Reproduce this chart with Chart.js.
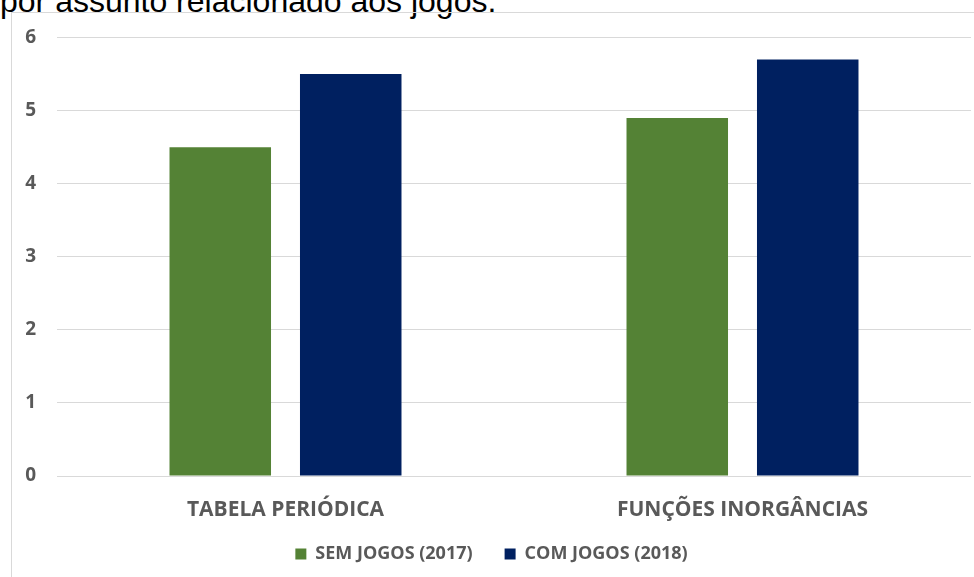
<!DOCTYPE html>
<html>
<head>
<meta charset="utf-8">
<script src="https://cdn.jsdelivr.net/npm/chart.js@4.4.1/dist/chart.umd.min.js"></script>
<style>
  html, body { margin: 0; padding: 0; background: #fff; overflow: hidden; }
  body { width: 974px; height: 577px; position: relative; }
  #caption {
    position: absolute; left: 0; top: -15px;
    font-family: "Liberation Sans", Arial, sans-serif; font-size: 32px; line-height: 32px;
    color: #000; white-space: nowrap;
  }
  #frame {
    position: absolute; left: 11px; top: 12px; width: 962px; height: 564px;
    border-left: 1px solid #d9d9d9; border-top: 1px solid #d9d9d9;
  }
  canvas { display: block; }
</style>
</head>
<body>
<div id="caption">por assunto relacionado aos jogos.</div>
<div id="frame"><canvas id="mycanvas" width="962" height="564"></canvas></div>
<script>
var categories = ['TABELA PERIÓDICA', 'FUNÇÕES INORGÂNCIAS'];
var semJogos = [4.5, 4.9];
var comJogos = [5.5, 5.7];
var yTicks = [0, 1, 2, 3, 4, 5, 6];

var font = '"Open Sans", "DejaVu Sans", sans-serif';

var chartdata = {
  labels: categories,
  datasets: [
    {
      label: 'SEM JOGOS (2017)',
      backgroundColor: '#548235',
      data: semJogos
    },
    {
      label: 'COM JOGOS (2018)',
      backgroundColor: '#002060',
      data: comJogos
    }
  ]
};

// keep the legend box at a fixed height so the plot area lines up
var legendHeight = {
  id: 'legendHeight',
  beforeUpdate: function(chart) {
    var lg = chart.legend;
    if (lg && !lg._patched) {
      var fit = lg.fit;
      lg.fit = function() {
        fit.call(this);
        this.height = 64;
      };
      lg._patched = true;
    }
  }
};

var options = {
  responsive: false,
  animation: false,
  datasets: {
    bar: { categoryPercentage: 0.571, barPercentage: 0.778 }
  },
  layout: { padding: { top: 24.5, right: 3, bottom: 0, left: 0 } },
  plugins: {
    legend: {
      position: 'bottom',
      labels: {
        boxWidth: 11, boxHeight: 11, padding: 32,
        color: '#595959',
        font: { family: font, size: 18, weight: 'bold' }
      }
    },
    tooltip: { enabled: false }
  },
  scales: {
    x: {
      grid: { display: false },
      border: { display: false },
      ticks: {
        color: '#595959', padding: 13,
        font: { family: font, size: 21, weight: 'bold' }
      },
      afterFit: function(scale) {
        scale.height = 37;
        scale._computeLabelArea = function() { return null; };
      }
    },
    y: {
      min: yTicks[0],
      max: yTicks[yTicks.length - 1],
      afterBuildTicks: function(scale) {
        scale.ticks = yTicks.map(function(v) { return { value: v }; });
      },
      grid: { color: '#d9d9d9', lineWidth: 1, drawTicks: false },
      border: { display: false },
      ticks: {
        color: '#595959', padding: 21,
        font: { family: font, size: 19, weight: 'bold' }
      },
      afterFit: function(scale) {
        scale.width = 45;
        scale.paddingTop = 0;
        scale.paddingBottom = 0;
      }
    }
  }
};

var ctx = document.getElementById('mycanvas');
var barGraph = new Chart(ctx, {
  type: 'bar',
  options: options,
  data: chartdata,
  plugins: [legendHeight]
});
</script>
</body>
</html>
